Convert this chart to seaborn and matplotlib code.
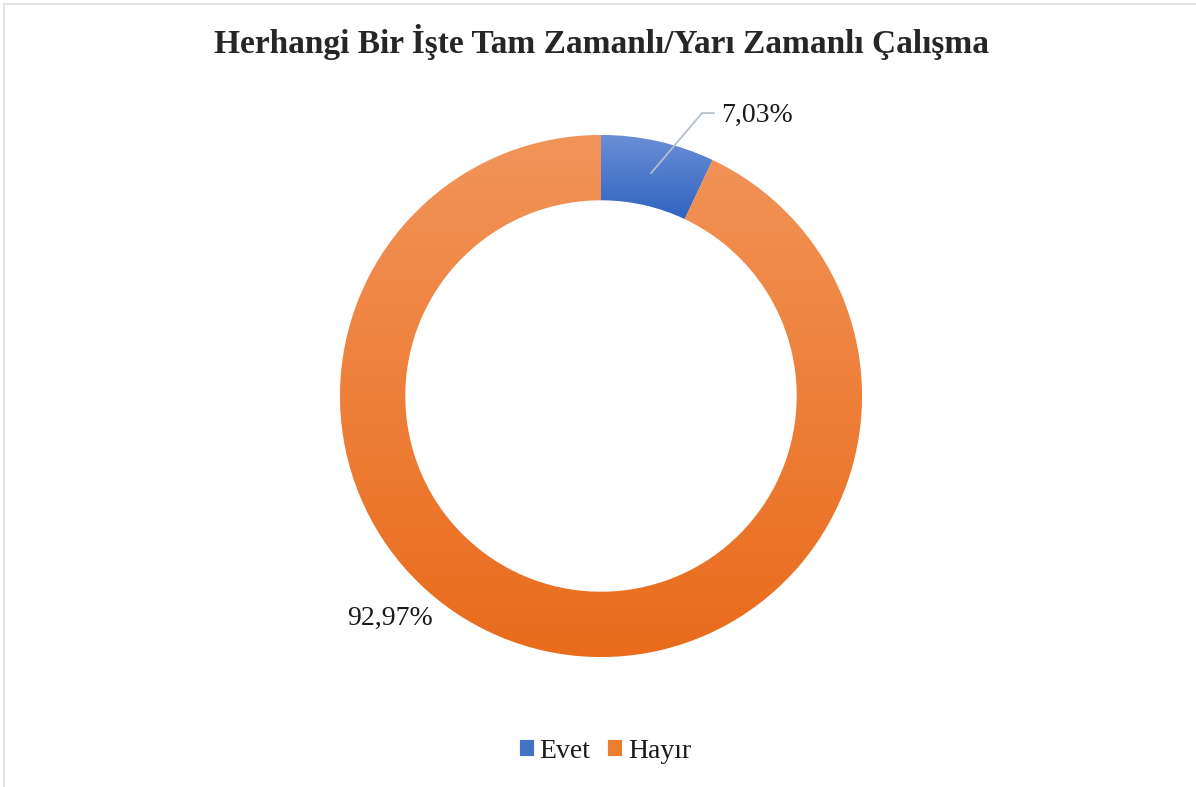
import matplotlib.pyplot as plt
import numpy as np
import seaborn as sns
from matplotlib.colors import LinearSegmentedColormap
from matplotlib.patches import Rectangle

categories = ["Evet", "Hayır"]
values = [7.03, 92.97]
value_labels = ["7,03%", "92,97%"]
title = "Herhangi Bir İşte Tam Zamanlı/Yarı Zamanlı Çalışma"

sns.set_theme(style="white")
plt.rcParams["font.family"] = ["Liberation Serif", "DejaVu Serif"]

base_colors = ["#4472c4", "#ed7d31"]
top_colors = ["#6a8fd6", "#f29459"]
bottom_colors = ["#3063c0", "#e96b1b"]

W, H = 1196, 787
cx, cy, r = 601, 396, 261
size = 2.5 * r

fig = plt.figure(figsize=(W / 100, H / 100), dpi=100)
ax = fig.add_axes([(cx - size / 2) / W, (H - cy - size / 2) / H, size / W, size / H])

wedges, _ = ax.pie(
    values,
    radius=1,
    startangle=90,
    counterclock=False,
    colors=base_colors,
    wedgeprops=dict(width=0.25, linewidth=0.6, edgecolor="white"),
)

# vertical gradient inside each segment
grad = np.linspace(0, 1, 256).reshape(-1, 1)
for w, c_top, c_bot in zip(wedges, top_colors, bottom_colors):
    bb = w.get_path().get_extents()
    cmap = LinearSegmentedColormap.from_list("g", [c_bot, c_top])
    im = ax.imshow(
        grad,
        extent=[bb.x0, bb.x1, bb.y0, bb.y1],
        origin="lower",
        cmap=cmap,
        aspect="auto",
        zorder=w.get_zorder() + 0.1,
        interpolation="bilinear",
    )
    im.set_clip_path(w)

ax.set_xlim(-1.25, 1.25)
ax.set_ylim(-1.25, 1.25)
ax.set_aspect("equal")
ax.axis("off")

# leader line for the small slice
theta = np.deg2rad(90 - 360 * values[0] / 100 / 2)
x0, y0 = 0.875 * np.cos(theta), 0.875 * np.sin(theta)
ax.plot([x0, 0.387, 0.433], [y0, 1.084, 1.084], color="#b4bfcc", lw=1.3, zorder=5)
ax.text(0.46, 1.075, value_labels[0], fontsize=20, ha="left", va="center", color="#1a1a1a")
ax.text(-0.808, -0.853, value_labels[1], fontsize=20, ha="center", va="center", color="#1a1a1a")

fig.suptitle(title, x=601 / W, y=1 - 42 / H, va="center", fontsize=24, fontweight="bold")

leg = fig.legend(
    wedges,
    categories,
    loc="center",
    bbox_to_anchor=(605 / W, 1 - 751 / H),
    ncol=2,
    frameon=False,
    fontsize=20,
    handlelength=0.55,
    handleheight=0.55,
    handletextpad=0.2,
    columnspacing=0.6,
)
for t in leg.get_texts():
    t.set_color("#1a1a1a")

fig.patches.append(
    Rectangle((4 / W, -0.02), 1.05, 1 - 4 / H + 0.02, transform=fig.transFigure,
              fill=False, edgecolor="#d9dde3", lw=1.2)
)

fig.savefig("out.png", dpi=100, facecolor="white")
